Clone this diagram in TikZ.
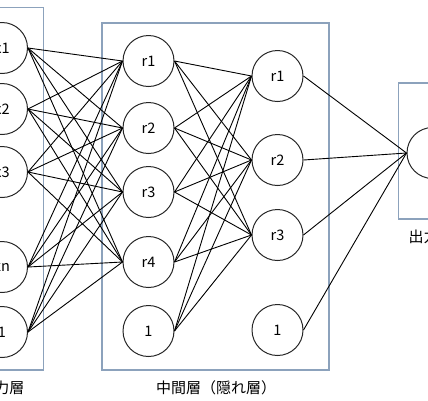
\documentclass[tikz,border=0pt]{standalone}
\usepackage{fontspec}
\setmainfont{Noto Sans CJK JP}
\definecolor{boxblue}{RGB}{140,162,188}
\begin{document}
\begin{tikzpicture}[x=1pt,y=-1pt,
  neuron/.style={circle,draw=black!85,line width=1pt,minimum size=51pt,inner sep=0pt,font=\fontsize{14.5}{16}\selectfont},
  layerbox/.style={draw=boxblue,line width=1.2pt},
  conn/.style={draw=black,line width=0.9pt},
  caption/.style={font=\fontsize{15}{17}\selectfont,inner sep=0pt}]
\useasboundingbox (0,0) rectangle (428,400);
\clip (0,0) rectangle (428,400);
% layer boxes
\draw[layerbox] (-60,7.5) rectangle (43.5,370);
\draw[layerbox] (102,23) rectangle (329,370);
\draw[layerbox] (398.5,83) rectangle (480,219);
% input layer
\node[neuron] (x1) at (2,48) {x1};
\node[neuron] (x2) at (2,109) {x2};
\node[neuron] (x3) at (2,172) {x3};
\node[neuron] (xn) at (2,267) {xn};
\node[neuron] (xb) at (2,332) {1};
% hidden layer 1
\node[neuron] (a1) at (148.5,61) {r1};
\node[neuron] (a2) at (148.5,128) {r2};
\node[neuron] (a3) at (148.5,192) {r3};
\node[neuron] (a4) at (148.5,262) {r4};
\node[neuron] (ab) at (148.5,331) {1};
% hidden layer 2
\node[neuron] (b1) at (277.5,76) {r1};
\node[neuron] (b2) at (277.5,160) {r2};
\node[neuron] (b3) at (277.5,235) {r3};
\node[neuron] (bb) at (277.5,330) {1};
% output
\node[neuron] (o) at (432.5,153) {};
% connections input -> hidden 1
\foreach \s in {x1,x2,x3,xn,xb}
  \foreach \t in {a1,a2,a3,a4}
    \draw[conn] (\s.east) -- (\t.west);
% hidden 1 -> hidden 2
\foreach \s in {a1,a2,a3,a4,ab}
  \foreach \t in {b1,b2,b3}
    \draw[conn] (\s.east) -- (\t.west);
% hidden 2 -> output
\foreach \s in {b1,b2,b3,bb}
  \draw[conn] (\s.east) -- (o.west);
% captions
\node[caption] (lin) at (2,388) {入力層};
\node[caption] (lmid) at (216,388) {中間層（隠れ層）};
\node[caption] (lout) at (431,237) {出力層};
\end{tikzpicture}
\end{document}
